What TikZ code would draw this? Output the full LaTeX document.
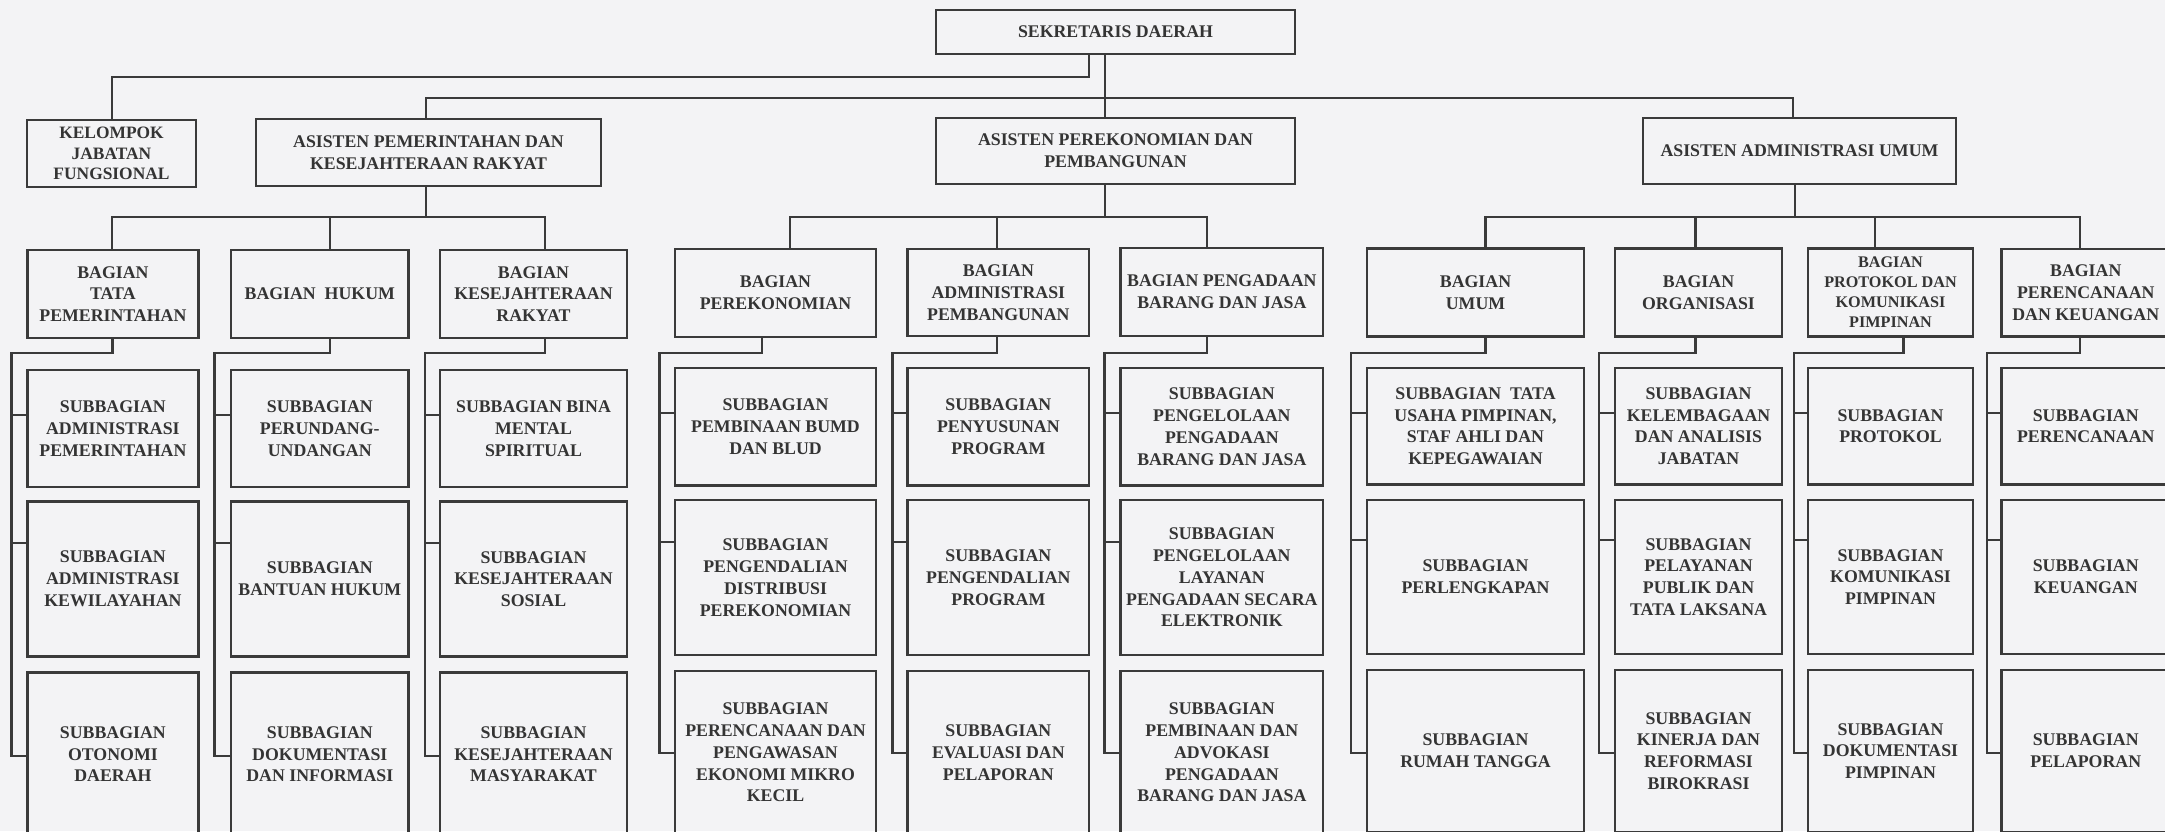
\documentclass[tikz,border=0pt]{standalone}
\usepackage{fontspec}
\setmainfont{Liberation Serif}
\usetikzlibrary{fit}
\definecolor{bg}{RGB}{243,243,245}
\definecolor{ink}{RGB}{52,52,52}
\definecolor{ln}{RGB}{58,58,58}
\tikzset{
 box/.style={draw=ln, line width=1.25pt, inner sep=0pt},
 lbl/.style={inner sep=0pt, align=center, text=ink, font=\fontsize{8.9}{10.9}\selectfont\bfseries},
 smallbox/.style={font=\fontsize{8.1}{10}\selectfont\bfseries},
 tightbox/.style={font=\fontsize{8.7}{10.4}\selectfont\bfseries},
 link/.style={draw=ln, line width=1.15pt, line join=miter},
}
\newcommand\bx[7][]{\node[box,fit={(#3,#4) (#5,#6)}] (#2) {};
 \node[lbl,#1] (#2t) at (#2.center) {#7};}
\newcommand\subtree[6]{%
 \coordinate (#1k) at (#2,353);
 \coordinate (#1j) at (#3,353);
 \coordinate (#1e) at (#3,#6);
 \coordinate (#1a) at (#3,#4);
 \coordinate (#1b) at (#3,#5);
 \draw[link] (#1.south -| #1k) -- (#1k) -- (#1j) -- (#1e) -- (#1e -| #1s3.west);
 \draw[link] (#1a) -- (#1a -| #1s1.west);
 \draw[link] (#1b) -- (#1b -| #1s2.west);
}
\begin{document}
\begin{tikzpicture}[x=0.5pt,y=-0.5pt]
\useasboundingbox (0,0) rectangle (2165,831);
\clip (0,0) rectangle (2165,831);
\fill[bg] (0,0) rectangle (2165,831);

% top level
\bx{sekda}{936}{10}{1295}{54}{SEKRETARIS DAERAH}
\bx[tightbox]{kjf}{27}{120}{196}{187}{KELOMPOK\\JABATAN\\FUNGSIONAL}
\bx{apem}{256}{119}{601}{186}{ASISTEN PEMERINTAHAN DAN\\KESEJAHTERAAN RAKYAT}
\bx{aperek}{936}{118}{1295}{184}{ASISTEN PEREKONOMIAN DAN\\PEMBANGUNAN}
\bx{aadm}{1643}{118}{1956}{184}{ASISTEN ADMINISTRASI UMUM}

% bagian
\bx{tp}{27.5}{250}{198.3}{338}{BAGIAN\\TATA\\PEMERINTAHAN}
\bx{hk}{231}{250}{408.6}{338}{BAGIAN~~HUKUM}
\bx{ks}{440}{250}{627}{338}{BAGIAN\\KESEJAHTERAAN\\RAKYAT}
\bx{pk}{675}{249}{876}{337}{BAGIAN\\PEREKONOMIAN}
\bx{ap}{907.7}{249}{1089}{336}{BAGIAN\\ADMINISTRASI\\PEMBANGUNAN}
\bx{pg}{1120.7}{248}{1323}{336}{BAGIAN PENGADAAN\\BARANG DAN JASA}
\bx{um}{1367}{248.5}{1584}{336.5}{BAGIAN\\UMUM}
\bx{org}{1615}{248.5}{1782}{336.5}{BAGIAN\\ORGANISASI}
\bx[smallbox]{prot}{1808}{248.5}{1973}{336.5}{BAGIAN\\PROTOKOL DAN\\KOMUNIKASI\\PIMPINAN}
\bx{pren}{2001.5}{249}{2170}{336.5}{BAGIAN\\PERENCANAAN\\DAN KEUANGAN}

% subbagian
\bx{tps1}{27.5}{370}{198.3}{487}{SUBBAGIAN\\ADMINISTRASI\\PEMERINTAHAN}
\bx{tps2}{27.5}{501.5}{198.3}{656.5}{SUBBAGIAN\\ADMINISTRASI\\KEWILAYAHAN}
\bx{tps3}{27.5}{672.5}{198.3}{836}{SUBBAGIAN\\OTONOMI\\DAERAH}

\bx{hks1}{231}{370}{408.6}{487}{SUBBAGIAN\\PERUNDANG-\\UNDANGAN}
\bx{hks2}{231}{501.5}{408.6}{656.5}{SUBBAGIAN\\BANTUAN HUKUM}
\bx{hks3}{231}{672.5}{408.6}{836}{SUBBAGIAN\\DOKUMENTASI\\DAN INFORMASI}

\bx{kss1}{440}{370}{627}{487}{SUBBAGIAN BINA\\MENTAL\\SPIRITUAL}
\bx{kss2}{440}{501.5}{627}{656.5}{SUBBAGIAN\\KESEJAHTERAAN\\SOSIAL}
\bx{kss3}{440}{672.5}{627}{836}{SUBBAGIAN\\KESEJAHTERAAN\\MASYARAKAT}

\bx{pks1}{675}{368}{876}{485.5}{SUBBAGIAN\\PEMBINAAN BUMD\\DAN BLUD}
\bx{pks2}{675}{500}{876}{655}{SUBBAGIAN\\PENGENDALIAN\\DISTRIBUSI\\PEREKONOMIAN}
\bx{pks3}{675}{671}{876}{834}{SUBBAGIAN\\PERENCANAAN DAN\\PENGAWASAN\\EKONOMI MIKRO\\KECIL}

\bx{aps1}{907.7}{368}{1089}{485.5}{SUBBAGIAN\\PENYUSUNAN\\PROGRAM}
\bx{aps2}{907.7}{500}{1089}{655}{SUBBAGIAN\\PENGENDALIAN\\PROGRAM}
\bx{aps3}{907.7}{671}{1089}{834}{SUBBAGIAN\\EVALUASI DAN\\PELAPORAN}

\bx{pgs1}{1120.7}{368}{1323}{485.5}{SUBBAGIAN\\PENGELOLAAN\\PENGADAAN\\BARANG DAN JASA}
\bx{pgs2}{1120.7}{500}{1323}{655}{SUBBAGIAN\\PENGELOLAAN\\LAYANAN\\PENGADAAN SECARA\\ELEKTRONIK}
\bx{pgs3}{1120.7}{671}{1323}{834}{SUBBAGIAN\\PEMBINAAN DAN\\ADVOKASI\\PENGADAAN\\BARANG DAN JASA}

\bx{ums1}{1367}{368}{1584}{484.5}{SUBBAGIAN~~TATA\\USAHA PIMPINAN,\\STAF AHLI DAN\\KEPEGAWAIAN}
\bx{ums2}{1367}{500}{1584}{654}{SUBBAGIAN\\PERLENGKAPAN}
\bx{ums3}{1367}{670}{1584}{832}{SUBBAGIAN\\RUMAH TANGGA}

\bx{orgs1}{1615}{368}{1782}{484.5}{SUBBAGIAN\\KELEMBAGAAN\\DAN ANALISIS\\JABATAN}
\bx{orgs2}{1615}{500}{1782}{654}{SUBBAGIAN\\PELAYANAN\\PUBLIK DAN\\TATA LAKSANA}
\bx{orgs3}{1615}{670}{1782}{832}{SUBBAGIAN\\KINERJA DAN\\REFORMASI\\BIROKRASI}

\bx{prots1}{1808}{368}{1973}{484.5}{SUBBAGIAN\\PROTOKOL}
\bx{prots2}{1808}{500}{1973}{654}{SUBBAGIAN\\KOMUNIKASI\\PIMPINAN}
\bx{prots3}{1808}{670}{1973}{832}{SUBBAGIAN\\DOKUMENTASI\\PIMPINAN}

\bx{prens1}{2001.5}{368}{2170}{484.5}{SUBBAGIAN\\PERENCANAAN}
\bx{prens2}{2001.5}{500}{2170}{654}{SUBBAGIAN\\KEUANGAN}
\bx{prens3}{2001.5}{670}{2170}{832}{SUBBAGIAN\\PELAPORAN}

% top connectors
\coordinate (m1) at (1089,77);
\coordinate (m2) at (112,77);
\draw[link] (sekda.south -| m1) -- (m1) -- (m2) -- (kjf.north -| m2);
\coordinate (bL) at (426,98);
\coordinate (bM) at (1105,98);
\coordinate (bR) at (1793,98);
\draw[link] (sekda.south -| bM) -- (aperek.north -| bM);
\draw[link] (apem.north -| bL) -- (bL) -- (bR) -- (aadm.north -| bR);

% second level buses
\coordinate (p1) at (426,217);
\coordinate (p1L) at (112,217);
\coordinate (p1M) at (330,217);
\coordinate (p1R) at (545,217);
\draw[link] (apem.south -| p1) -- (p1);
\draw[link] (tp.north -| p1L) -- (p1L) -- (p1R) -- (ks.north -| p1R);
\draw[link] (p1M) -- (hk.north -| p1M);

\coordinate (q1) at (1105,217);
\coordinate (qL) at (790,217);
\coordinate (qM) at (996.7,217);
\coordinate (qR) at (1207,217);
\draw[link] (aperek.south -| q1) -- (q1);
\draw[link] (pk.north -| qL) -- (qL) -- (qR) -- (pg.north -| qR);
\draw[link] (qM) -- (ap.north -| qM);

\coordinate (r1) at (1795,217);
\coordinate (rL) at (1485.4,217);
\coordinate (rM) at (1695.6,217);
\coordinate (rN) at (1875,217);
\coordinate (rR) at (2080,217);
\draw[link] (aadm.south -| r1) -- (r1);
\draw[link] (um.north -| rL) -- (rL) -- (rR) -- (pren.north -| rR);
\draw[link] (rM) -- (org.north -| rM);
\draw[link] (rN) -- (prot.north -| rN);

% subtrees
\subtree{tp}{112.5}{11.5}{415}{543}{756}
\subtree{hk}{330}{214.4}{415}{543}{756}
\subtree{ks}{545}{424.7}{415}{543}{756}
\subtree{pk}{761.7}{659.5}{413.3}{541.7}{753.3}
\subtree{ap}{996.7}{892.5}{413.3}{541.7}{753.3}
\subtree{pg}{1207}{1104.6}{413.3}{541.7}{753.3}
\subtree{um}{1485.4}{1351}{412.7}{540}{752.7}
\subtree{org}{1695.6}{1599}{412.7}{540}{752.7}
\subtree{prot}{1903.5}{1794}{412.7}{540}{752.7}
\subtree{pren}{2080}{1987}{412.7}{540}{752.7}
\end{tikzpicture}
\end{document}
